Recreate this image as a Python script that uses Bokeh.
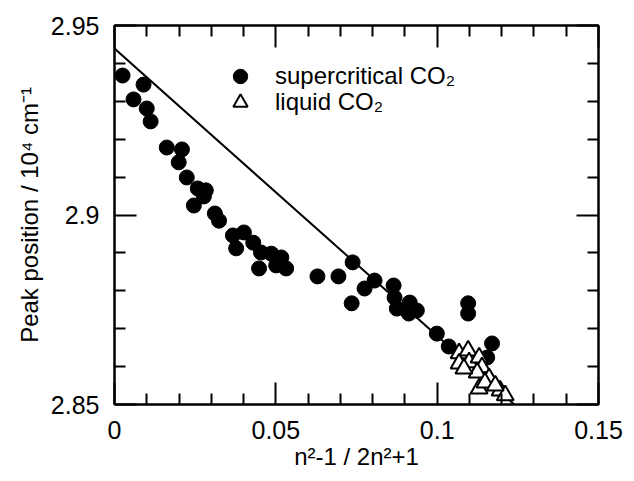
from bokeh.plotting import figure
from bokeh.models import (LinearAxis, FixedTicker, Range1d, Legend, LegendItem,
                          CustomLabelingPolicy)
from bokeh.embed import file_html
from bokeh.resources import INLINE

# supercritical CO2 (filled circles)
sc_x = [0.0025, 0.0090, 0.0059, 0.0100, 0.0112, 0.0162, 0.0209, 0.0199, 0.0224,
        0.0258, 0.0277, 0.0246, 0.0283, 0.0311, 0.0324, 0.0367, 0.0401, 0.0377,
        0.0430, 0.0454, 0.0486, 0.0517, 0.0501, 0.0532, 0.0448, 0.0629, 0.0694,
        0.0738, 0.0806, 0.0775, 0.0735, 0.0865, 0.0868, 0.0875, 0.0915, 0.0937,
        0.0912, 0.0999, 0.1036, 0.1096, 0.1096, 0.1170, 0.1155]
sc_y = [2.9368, 2.9344, 2.9305, 2.9281, 2.9247, 2.9178, 2.9173, 2.9139, 2.9099,
        2.9070, 2.9049, 2.9025, 2.9065, 2.9004, 2.8985, 2.8946, 2.8954, 2.8912,
        2.8927, 2.8901, 2.8898, 2.8888, 2.8867, 2.8859, 2.8859, 2.8838, 2.8838,
        2.8875, 2.8827, 2.8806, 2.8767, 2.8814, 2.8782, 2.8753, 2.8769, 2.8748,
        2.8740, 2.8687, 2.8653, 2.8767, 2.8740, 2.8661, 2.8624]

# liquid CO2 (open triangles)
lq_x = [0.1068, 0.1096, 0.1068, 0.1099, 0.1130, 0.1139, 0.1124, 0.1161, 0.1130,
        0.1195, 0.1211, 0.1148, 0.1083, 0.1180]
lq_y = [2.8635, 2.8642, 2.8608, 2.8611, 2.8624, 2.8598, 2.8584, 2.8569, 2.8542,
        2.8537, 2.8524, 2.8558, 2.8595, 2.8550]

# fitted straight line (end points)
fit_x = [0.0, 0.1239]
fit_y = [2.9439, 2.8500]

x_ticks = [0.0, 0.05, 0.1, 0.15]
x_tick_labels = ["0", "0.05", "0.1", "0.15"]
x_minor = [0.01, 0.02, 0.03, 0.04, 0.06, 0.07, 0.08, 0.09, 0.11, 0.12, 0.13, 0.14]
y_ticks = [2.85, 2.9, 2.95]
y_tick_labels = ["2.85", "2.9", "2.95"]
y_minor = [2.86, 2.87, 2.88, 2.89, 2.91, 2.92, 2.93, 2.94]

FONT = "Liberation Sans"

p = figure(width=626, height=473, x_range=Range1d(0, 0.15), y_range=Range1d(2.85, 2.95),
           output_backend="svg", toolbar_location=None,
           x_axis_location=None, y_axis_location=None,
           min_border_left=114, min_border_right=28, min_border_top=25, min_border_bottom=69)
p.xgrid.visible = False
p.ygrid.visible = False
p.outline_line_color = "black"
p.outline_line_width = 2
p.background_fill_color = "white"
p.border_fill_color = "white"

xt = FixedTicker(ticks=x_ticks, minor_ticks=x_minor)
yt = FixedTicker(ticks=y_ticks, minor_ticks=y_minor)


def style(ax, show_labels):
    ax.major_tick_in = 22
    ax.major_tick_out = 0
    ax.minor_tick_in = 11
    ax.minor_tick_out = 0
    ax.axis_line_width = 2
    ax.axis_line_color = "black"
    ax.major_tick_line_width = 2
    ax.minor_tick_line_width = 2
    ax.major_tick_line_color = "black"
    ax.minor_tick_line_color = "black"
    ax.major_label_text_font = FONT
    ax.major_label_text_color = "black"
    ax.axis_label_text_font = FONT
    ax.axis_label_text_font_style = "normal"
    ax.axis_label_text_color = "black"
    ax.major_label_text_font_size = "25px"
    ax.axis_label_text_font_size = "24px"
    if not show_labels:
        ax.major_label_standoff = 0
        ax.major_label_text_font_size = "0px"
        ax.major_label_policy = CustomLabelingPolicy(code="return new Set()")


bottom = LinearAxis(ticker=xt, axis_label="n²-1 / 2n²+1",
                    major_label_overrides=dict(zip(x_ticks, x_tick_labels)))
style(bottom, True)
bottom.major_label_standoff = 16
bottom.axis_label_standoff = 1
p.add_layout(bottom, "below")

left = LinearAxis(ticker=yt, axis_label="Peak position / 10⁴ cm⁻¹",
                  major_label_overrides=dict(zip(y_ticks, y_tick_labels)))
style(left, True)
left.major_label_standoff = 15
left.axis_label_standoff = 5
p.add_layout(left, "left")

top = LinearAxis(ticker=xt)
style(top, False)
p.add_layout(top, "above")
right = LinearAxis(ticker=yt)
style(right, False)
p.add_layout(right, "right")

p.line(fit_x, fit_y, line_color="black", line_width=2)
r_sc = p.scatter(sc_x, sc_y, marker="circle", size=15, fill_color="black", line_color="black")
r_lq = p.scatter(lq_x, lq_y, marker="triangle", size=17, fill_color="white",
                 line_color="black", line_width=2)

for label, rend, loc in [("supercritical CO₂", r_sc, (108, 310)),
                         ("liquid CO₂", r_lq, (108, 284))]:
    lg = Legend(items=[LegendItem(label=label, renderers=[rend])], location=loc,
                glyph_width=36, glyph_height=36, label_standoff=17, padding=0, margin=0,
                spacing=0, border_line_color=None, background_fill_alpha=0,
                label_text_font=FONT, label_text_font_size="24px", label_text_color="black")
    p.add_layout(lg, "center")

open("out.html", "w").write(file_html(p, INLINE))
